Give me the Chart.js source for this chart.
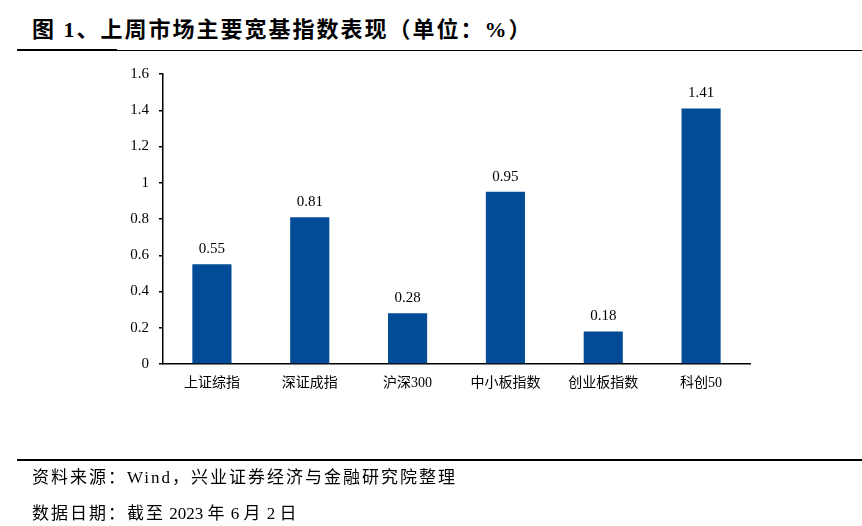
<!DOCTYPE html>
<html>
<head>
<meta charset="utf-8">
<script src="https://cdn.jsdelivr.net/npm/chart.js@4"></script>
<style>
  body { margin: 0; width: 862px; height: 526px; position: relative; background: #fff; overflow: hidden; }
  .title { position: absolute; left: 32px; top: 11px; font: bold 22px 'Liberation Serif', 'Noto Sans CJK SC'; letter-spacing: 2px; color: #000; white-space: nowrap; }
  .rule { position: absolute; background: #000; }
  .note { position: absolute; left: 32px; font: 17px 'Liberation Serif', 'Noto Sans CJK SC'; letter-spacing: 2px; color: #000; white-space: nowrap; }
  .num { letter-spacing: 0; }
  #wrap { position: absolute; left: 0; top: 0; width: 862px; height: 526px; }
</style>
</head>
<body>
<div class="title">图 1、上周市场主要宽基指数表现（单位：%）</div>
<div class="rule" style="left:17px; top:49px; width:100px; height:2px;"></div>
<div class="rule" style="left:117px; top:50px; width:745px; height:1px;"></div>
<div id="wrap"><canvas id="chart"></canvas></div>
<div class="rule" style="left:17px; top:459px; width:845px; height:2px;"></div>
<div class="note" style="top:463px;">资料来源：Wind，兴业证券经济与金融研究院整理</div>
<div class="note" style="top:499px;">数据日期：截至<span class="num"> 2023 </span>年<span class="num"> 6 </span>月<span class="num"> 2 </span>日</div>
<script>
// categories and weekly change (%)
const categories = ['上证综指', '深证成指', '沪深300', '中小板指数', '创业板指数', '科创50'];
const changes = [0.55, 0.81, 0.28, 0.95, 0.18, 1.41];
const yTicks = [0, 0.2, 0.4, 0.6, 0.8, 1, 1.2, 1.4, 1.6];

const serif = "'Liberation Serif', 'Noto Sans CJK SC'";

// draws the value above each bar
const valueLabels = {
    id: 'valueLabels',
    afterDatasetsDraw(chart) {
        const ctx = chart.ctx;
        const meta = chart.getDatasetMeta(0);
        ctx.save();
        ctx.font = '15px ' + serif;
        ctx.fillStyle = '#000';
        ctx.textAlign = 'center';
        ctx.textBaseline = 'middle';
        meta.data.forEach((bar, i) => {
            ctx.fillText(changes[i].toFixed(2), bar.x, bar.y - 15);
        });
        ctx.restore();
    }
};

function createChart(targetID) {
    const ctx = document.getElementById(targetID).getContext('2d');
    return new Chart(ctx, {
        type: 'bar',
        data: {
            labels: categories,
            datasets: [{
                data: changes,
                backgroundColor: '#024C97',
                barPercentage: 0.4,
                categoryPercentage: 1
            }]
        },
        options: {
            responsive: true,
            maintainAspectRatio: false,
            animation: false,
            layout: { padding: { top: 74, right: 112, left: 0, bottom: 0 } },
            plugins: { legend: { display: false }, tooltip: { enabled: false } },
            scales: {
                x: {
                    grid: { display: false, drawTicks: false },
                    border: { color: '#000', width: 1.5 },
                    ticks: { color: '#000', font: { family: serif, size: 14 }, padding: 11, maxRotation: 0 },
                    afterFit(scale) { scale.height = 162; }
                },
                y: {
                    min: 0,
                    max: 1.6,
                    afterBuildTicks(scale) { scale.ticks = yTicks.map(v => ({ value: v })); },
                    grid: { drawOnChartArea: false, drawTicks: true, tickLength: 4, color: '#000', lineWidth: 1.5 },
                    border: { color: '#000', width: 1.5 },
                    ticks: { color: '#000', font: { family: serif, size: 15 }, padding: 10, callback: v => String(v) },
                    afterFit(scale) { scale.width = 163; }
                }
            }
        },
        plugins: [valueLabels]
    });
}

createChart('chart');
</script>
</body>
</html>
